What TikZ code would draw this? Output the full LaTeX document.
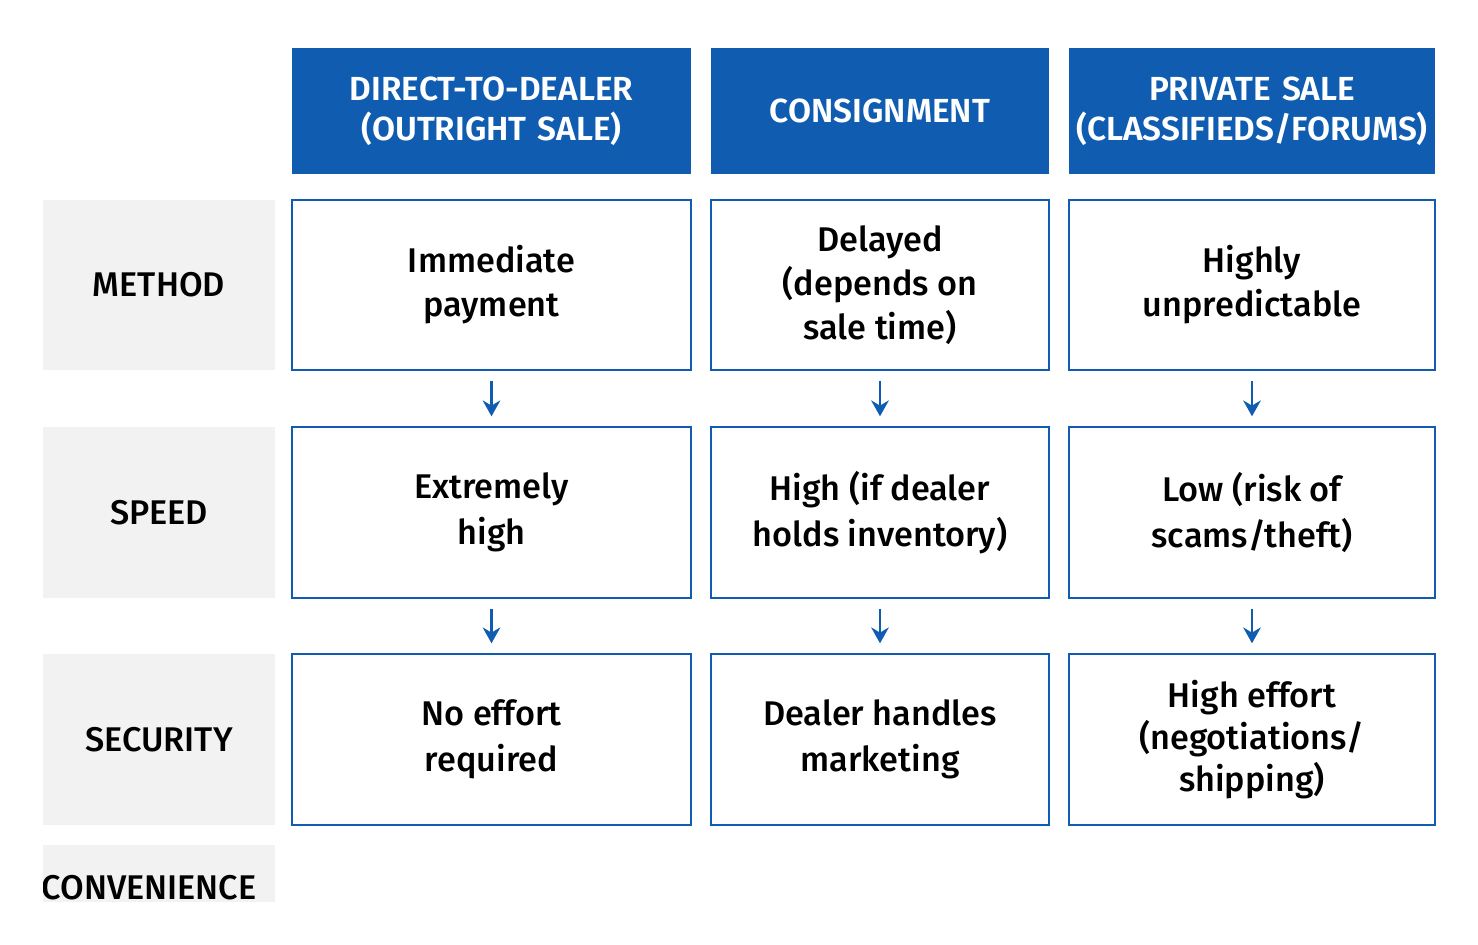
\documentclass[tikz,border=0pt]{standalone}
\usepackage{fontspec}
\setmainfont{Fira Sans}[BoldFont={Fira Sans SemiBold}]
\newfontfamily\medfont{Fira Sans Medium}
\usetikzlibrary{positioning,arrows.meta}
\definecolor{hdrblue}{HTML}{0F5CB0}
\definecolor{rowgray}{HTML}{F2F2F2}
\begin{document}
\begin{tikzpicture}[x=0.02cm,y=-0.02cm,
    head node/.style={fill=hdrblue,text=white,font=\bfseries\fontsize{19}{23}\selectfont,align=center,inner sep=0pt},
    cell node/.style={draw=hdrblue,line width=0.8pt,fill=white,inner sep=0pt},
    cell text/.style={font=\medfont\fontsize{19.5}{25}\selectfont,align=center},
    row node/.style={fill=rowgray,font=\medfont\fontsize{19.5}{22}\selectfont,inner sep=0pt},
    down/.style={-{Stealth[length=9pt,width=10pt]},hdrblue,line width=1.6pt}
  ]
  \useasboundingbox (0,0) rectangle (1478,945);
  % column headers
  \node[head node,text width=390*0.02cm,minimum width=399*0.02cm,minimum height=126*0.02cm] (h1) at (491.5,111) {DIRECT-TO-DEALER\\(OUTRIGHT SALE)};
  \node[head node,text width=330*0.02cm,minimum width=338*0.02cm,minimum height=126*0.02cm] (h2) at (880,111) {CONSIGNMENT};
  \node[head node,text width=360*0.02cm,minimum width=366*0.02cm,minimum height=126*0.02cm] (h3) at (1252,111) {PRIVATE SALE\\(CLASSIFIEDS/FORUMS)};
  % row labels
  \node[row node,minimum width=232*0.02cm,minimum height=170*0.02cm] (r1) at (159,285) {METHOD};
  \node[row node,minimum width=232*0.02cm,minimum height=171*0.02cm] (r2) at (159,512.5) {SPEED};
  \node[row node,minimum width=232*0.02cm,minimum height=171*0.02cm] (r3) at (159,739.5) {SECURITY};
  \fill[rowgray] (43,845) rectangle (275,902);
  \begin{scope}
    \clip (43,845) rectangle (275,902);
    \node[font=\medfont\fontsize{19.5}{22}\selectfont,inner sep=0pt] (r4) at (149,888) {CONVENIENCE};
  \end{scope}
  % cells
  \foreach \c/\cx/\w in {1/491.5/399,2/880/338,3/1252/366}{
    \node[cell node,minimum width=\w*0.02cm,minimum height=170*0.02cm] (c1\c) at (\cx,285) {};
    \node[cell node,minimum width=\w*0.02cm,minimum height=171*0.02cm] (c2\c) at (\cx,512.5) {};
    \node[cell node,minimum width=\w*0.02cm,minimum height=171*0.02cm] (c3\c) at (\cx,739.5) {};
    \draw[down] ([yshift=-10*0.02cm]c1\c.south) -- ([yshift=10*0.02cm]c2\c.north);
    \draw[down] ([yshift=-10*0.02cm]c2\c.south) -- ([yshift=10*0.02cm]c3\c.north);
  }
  \node[cell text] at (c11) {Immediate\\payment};
  \node[cell text] at (c12) {Delayed\\(depends on\\sale time)};
  \node[cell text] at (c13) {Highly\\unpredictable};
  \node[cell text,font=\medfont\fontsize{19.5}{26}\selectfont] at (c21) {Extremely\\high};
  \node[cell text,font=\medfont\fontsize{19.5}{26}\selectfont] at (c22) {High (if dealer\\holds inventory)};
  \node[cell text,font=\medfont\fontsize{19.5}{26}\selectfont] at (c23) {Low (risk of\\scams/theft)};
  \node[cell text,font=\medfont\fontsize{19.5}{26}\selectfont] at (c31) {No effort\\required};
  \node[cell text,font=\medfont\fontsize{19.5}{26}\selectfont] at (c32) {Dealer handles\\marketing};
  \node[cell text,font=\medfont\fontsize{19.5}{24}\selectfont] at (c33) {High effort\\(negotiations/\\shipping)};
\end{tikzpicture}
\end{document}
